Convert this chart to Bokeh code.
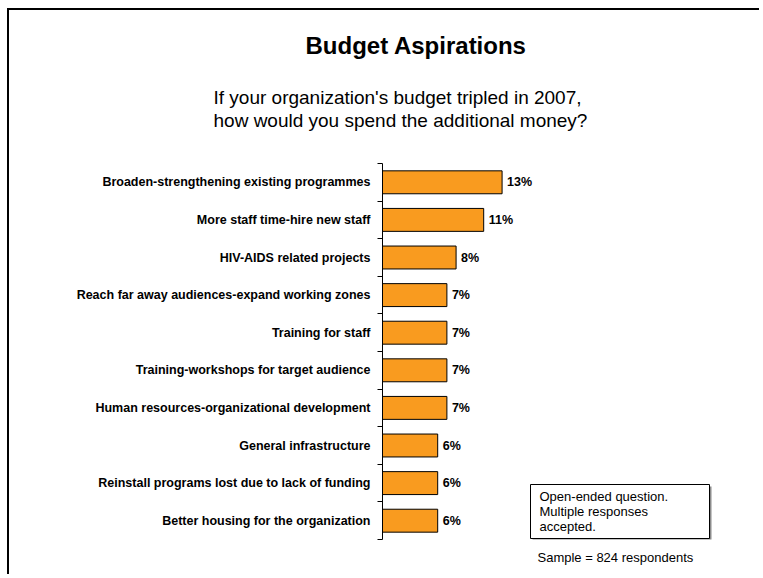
from bokeh.plotting import figure
from bokeh.models import (Range1d, FixedTicker, BoxAnnotation, Label, Title, ColumnDataSource)
from bokeh.core.properties import value
from bokeh.embed import file_html
from bokeh.resources import INLINE

categories = [
    "Broaden-strengthening existing programmes",
    "More staff time-hire new staff",
    "HIV-AIDS related projects",
    "Reach far away audiences-expand working zones",
    "Training for staff",
    "Training-workshops for target audience",
    "Human resources-organizational development",
    "General infrastructure",
    "Reinstall programs lost due to lack of funding",
    "Better housing for the organization",
]
percents = [13, 11, 8, 7, 7, 7, 7, 6, 6, 6]
value_labels = ["13%", "11%", "8%", "7%", "7%", "7%", "7%", "6%", "6%", "6%"]

title_text = "Budget Aspirations"
subtitle_lines = ["If your organization's budget tripled in 2007,",
                  "how would you spend the additional money?"]
note_lines = ["Open-ended question.", "Multiple responses", "accepted."]
sample_text = "Sample = 824 respondents"

FONT = "Liberation Sans"
ORANGE = "#F99B1F"

W, H = 752, 566
FRAME_LEFT = 373
FRAME_TOP = 153
FRAME_BOTTOM = 37

n = len(categories)
centers = [i + 0.5 for i in range(n)]

p = figure(width=W, height=H, output_backend="svg", toolbar_location=None, title=None,
           x_range=Range1d(0, 41.2), y_range=Range1d(n, 0),
           min_border_left=FRAME_LEFT, min_border_right=0,
           min_border_top=FRAME_TOP, min_border_bottom=FRAME_BOTTOM)
p.outline_line_color = None
p.xgrid.visible = False
p.ygrid.visible = False
p.xaxis.visible = False
p.background_fill_color = "white"
p.border_fill_color = "white"
p.styles = {"margin-left": "7px", "margin-top": "8px",
            "border-left": "2px solid black", "border-top": "2px solid black"}

src = ColumnDataSource(dict(y=centers, v=percents, lab=value_labels))

p.hbar(y="y", left=0, right="v", height=0.61, source=src,
       fill_color=ORANGE, line_color="black", line_width=1)
p.text(x="v", y="y", text="lab", source=src, x_offset=5,
       text_baseline="middle", text_align="left",
       text_font=value(FONT), text_font_style="bold",
       text_font_size="12.5px", text_color="black")

yax = p.yaxis[0]
yax.ticker = FixedTicker(ticks=centers, minor_ticks=list(range(n + 1)))
yax.major_label_overrides = {c: cat for c, cat in zip(centers, categories)}
yax.major_tick_out = 0
yax.major_tick_in = 0
yax.minor_tick_out = 5
yax.minor_tick_in = 0
yax.minor_tick_line_color = "black"
yax.axis_line_color = "black"
yax.axis_line_width = 1
yax.major_label_standoff = 7
yax.major_label_text_font = FONT
yax.major_label_text_font_style = "bold"
yax.major_label_text_font_size = "12.5px"
yax.major_label_text_color = "black"

# titles above (first added = nearest to the frame)
p.add_layout(Title(text=" ", text_font_size="10px", standoff=11, vertical_align="middle"), "above")
p.add_layout(Title(text="\n".join(subtitle_lines), align="left", offset=213 - 9 - FRAME_LEFT,
                   vertical_align="middle", standoff=16, text_line_height=1.05,
                   text_font=FONT, text_font_style="normal", text_font_size="19px",
                   text_color="black"), "above")
p.add_layout(Title(text=title_text, align="left", offset=305 - 9 - FRAME_LEFT,
                   vertical_align="middle", standoff=38,
                   text_font=FONT, text_font_style="bold", text_font_size="24px",
                   text_color="black"), "above")

# sample size note below
p.add_layout(Title(text=sample_text, align="left", offset=537 - 9 - FRAME_LEFT,
                   vertical_align="middle", standoff=19,
                   text_font=FONT, text_font_style="normal", text_font_size="13px",
                   text_color="black"), "below")

# note box with shadow
p.add_layout(BoxAnnotation(left=521, right=700, top=474, bottom=528,
                           left_units="canvas", right_units="canvas",
                           top_units="canvas", bottom_units="canvas",
                           fill_color="#8c8c8c", fill_alpha=1, line_color=None))
p.add_layout(BoxAnnotation(left=519, right=698, top=472, bottom=526,
                           left_units="canvas", right_units="canvas",
                           top_units="canvas", bottom_units="canvas",
                           fill_color="white", fill_alpha=1,
                           line_color="black", line_alpha=1, line_width=1))
for k, line in enumerate(note_lines):
    p.add_layout(Label(x=528, y=484 + 15 * k, x_units="canvas", y_units="canvas", text=line,
                       text_align="left", text_baseline="middle",
                       text_font=FONT, text_font_size="13px", text_color="black"))

open("out.html", "w").write(file_html(p, INLINE))
